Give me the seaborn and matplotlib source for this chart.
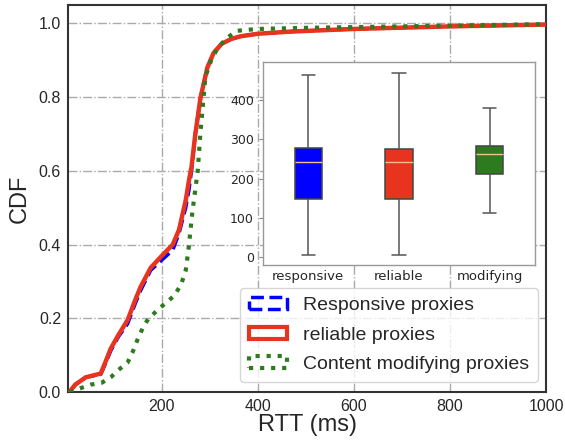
import matplotlib
matplotlib.use('Agg')
import matplotlib.pyplot as plt
from matplotlib.patches import Patch
import seaborn as sns
import pandas as pd

sns.set_style('white')
plt.rcParams['font.family'] = ['Liberation Sans', 'DejaVu Sans']

# CDF curves (RTT in ms, cumulative fraction)
rtt_resp = [8, 20, 42, 73, 84, 94, 110, 129, 145, 156, 177, 202, 223, 236, 250, 257, 262,
            270, 281, 295, 308, 325, 345, 364, 400, 470, 600, 800, 1000]
cdf_resp = [0.0, 0.02, 0.04, 0.048, 0.08, 0.112, 0.15, 0.185, 0.24, 0.275, 0.33, 0.36,
            0.385, 0.43, 0.50, 0.55, 0.60, 0.70, 0.80, 0.88, 0.92, 0.945, 0.958, 0.965,
            0.972, 0.978, 0.985, 0.992, 0.997]

rtt_rel = [8, 20, 42, 73, 84, 94, 110, 129, 145, 156, 177, 202, 223, 236, 250, 257, 262,
           270, 281, 295, 308, 325, 345, 364, 400, 470, 600, 800, 1000]
cdf_rel = [0.0, 0.02, 0.04, 0.05, 0.085, 0.118, 0.155, 0.195, 0.25, 0.285, 0.337, 0.372,
           0.40, 0.44, 0.52, 0.576, 0.61, 0.70, 0.80, 0.88, 0.92, 0.945, 0.958, 0.965,
           0.972, 0.978, 0.985, 0.992, 0.997]

rtt_mod = [8, 30, 52, 75, 94, 110, 129, 140, 152, 163, 173, 198, 225, 240, 250, 256,
           260, 264, 271, 275, 281, 291, 303, 315, 335, 357, 399, 500, 700, 1000]
cdf_mod = [0.0, 0.01, 0.02, 0.025, 0.04, 0.06, 0.08, 0.11, 0.15, 0.18, 0.20, 0.23, 0.26,
           0.29, 0.33, 0.39, 0.44, 0.49, 0.56, 0.60, 0.71, 0.856, 0.90, 0.93, 0.96, 0.98,
           0.985, 0.988, 0.992, 0.998]

# inset box plot: min, q1, median, q3, max
box_groups = ['responsive', 'reliable', 'modifying']
box_resp = [5, 148, 242, 277, 465]
box_rel = [5, 147, 242, 276, 470]
box_mod = [112, 212, 262, 282, 380]

blue = '#0000ff'
red = '#e8331f'
green = '#2e7a1e'

fig = plt.figure(figsize=(5.65, 4.43), dpi=100)
ax = fig.add_axes([0.1204, 0.1151, 0.846, 0.8736])

sns.lineplot(x=rtt_resp, y=cdf_resp, ax=ax, color=blue, linestyle='--', linewidth=2.5,
             sort=False, zorder=3)
sns.lineplot(x=rtt_rel, y=cdf_rel, ax=ax, color=red, linewidth=3.2, sort=False, zorder=4)
sns.lineplot(x=rtt_mod, y=cdf_mod, ax=ax, color=green, linestyle=':', linewidth=3,
             sort=False, zorder=5)

ax.set_xlim(5, 1000)
ax.set_ylim(0, 1.05)
ax.set_xticks([200, 400, 600, 800, 1000])
ax.set_yticks([0.0, 0.2, 0.4, 0.6, 0.8, 1.0])
ax.set_yticklabels(['0.0', '0.2', '0.4', '0.6', '0.8', '1.0'])
ax.tick_params(labelsize=11.5, length=0, pad=5)
ax.grid(True, color='#aaaaaa', linestyle='-.', linewidth=1)
for s in ax.spines.values():
    s.set_color('#333333')
    s.set_linewidth(1.5)
ax.set_xlabel('RTT (ms)', fontsize=17, labelpad=0)
ax.set_ylabel('CDF', fontsize=17, labelpad=6)

handles = [
    Patch(facecolor='none', edgecolor=blue, linestyle='--', linewidth=2.5),
    Patch(facecolor='none', edgecolor=red, linewidth=3),
    Patch(facecolor='none', edgecolor=green, linestyle=':', linewidth=3),
]
ax.legend(handles, ['Responsive proxies', 'reliable proxies', 'Content modifying proxies'],
          loc='lower right', bbox_to_anchor=(0.983, 0.026), borderaxespad=0, fontsize=14,
          handlelength=2.0, handleheight=0.55, handletextpad=0.8, labelspacing=0.65,
          borderpad=0.45, frameon=True, edgecolor='#cccccc')

# inset
ins = fig.add_axes([0.4655, 0.4018, 0.4814, 0.4582])
box_df = pd.DataFrame({
    'group': [g for g, v in zip(box_groups, [box_resp, box_rel, box_mod]) for _ in v],
    'rtt': box_resp + box_rel + box_mod,
})
sns.boxplot(data=box_df, x='group', y='rtt', hue='group', ax=ins, order=box_groups,
            palette=[blue, red, green], saturation=1, whis=(0, 100), width=0.3,
            linecolor='#444444', linewidth=1.1, legend=False,
            medianprops={'color': '#f6c08e', 'linewidth': 1},
            whiskerprops={'color': '#555555'}, capprops={'color': '#555555'})
ins.set_xlim(-0.5, 2.5)
ins.set_ylim(-20, 497)
ins.set_yticks([0, 100, 200, 300, 400])
ins.set_xlabel('')
ins.set_ylabel('')
ins.tick_params(axis='y', labelsize=9, length=3, color='#888888', left=True)
ins.tick_params(axis='x', labelsize=9.5, length=0)
for lbl in ins.get_xticklabels() + ins.get_yticklabels():
    lbl.set_fontfamily('DejaVu Sans')
for s in ins.spines.values():
    s.set_color('#999999')
    s.set_linewidth(1)

fig.savefig('out.png', dpi=100)
